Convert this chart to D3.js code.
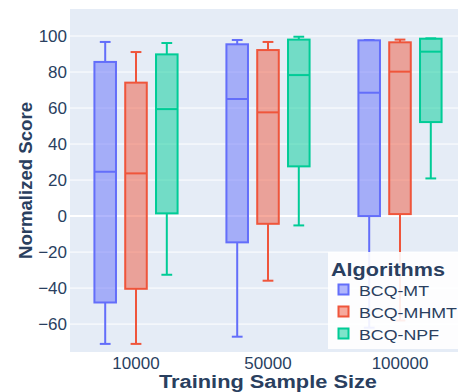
<!DOCTYPE html>
<html>
<head>
<meta charset="utf-8">
<script src="https://cdn.jsdelivr.net/npm/d3@7"></script>
<style>
  html, body { margin: 0; padding: 0; background: #fff; }
  svg { display: block; }
  text { font-family: "Liberation Sans", Arial, sans-serif; fill: #2a3f5f; }
</style>
</head>
<body>
<svg id="chart" width="458" height="392"></svg>
<script>
// Training sample sizes on the x axis
const sampleSizes = ["10000", "50000", "100000"];
const algorithms = ["BCQ-MT", "BCQ-MHMT", "BCQ-NPF"];
const colors = ["#636efa", "#ef553b", "#00cc96"];

// Box statistics per algorithm, one entry per sample size: [lower, q1, median, q3, upper]
const statsMT   = [[-71, -48, 24.6, 85.6, 96.7], [-67, -14.6, 65, 95.4, 97.8], [-62, 0, 68.5, 97.6, 97.8]];
const statsMHMT = [[-71, -40.4, 23.7, 74.1, 91.1], [-35.9, -4.3, 57.6, 92.2, 96.7], [-58, 1.1, 80.2, 96.5, 98]];
const statsNPF  = [[-32.6, 1.5, 59.4, 89.8, 96.1], [-5.2, 27.6, 78.3, 98, 99.6], [20.9, 52.2, 91.3, 98.5, 98.7]];
const yTicks = [-60, -40, -20, 0, 20, 40, 60, 80, 100];

const allStats = [statsMT, statsMHMT, statsNPF];

const svg = d3.select("#chart");
const plot = { left: 70, top: 9, right: 466, bottom: 352 };

const x = d3.scaleBand().domain(sampleSizes).range([plot.left, plot.right]);
const groupWidth = x.bandwidth() * 0.7;
const xInner = d3.scaleBand().domain(algorithms).range([0, groupWidth]);
const boxW = xInner.bandwidth() * 0.7;
const y = d3.scaleLinear().domain([-75.5, 115]).range([plot.bottom, plot.top]);

// plot background
svg.append("rect")
  .attr("x", plot.left).attr("y", plot.top)
  .attr("width", plot.right - plot.left).attr("height", plot.bottom - plot.top)
  .attr("fill", "#e5ecf6");

// horizontal grid
svg.append("g").selectAll("line").data(yTicks).join("line")
  .attr("x1", plot.left).attr("x2", plot.right)
  .attr("y1", d => y(d)).attr("y2", d => y(d))
  .attr("stroke", "#fff").attr("stroke-width", d => d === 0 ? 2 : 1);

// y axis labels
const yAxis = svg.append("g")
  .attr("transform", `translate(${plot.left},0)`)
  .call(d3.axisLeft(y).tickValues(yTicks).tickSize(0).tickPadding(3)
    .tickFormat(d => d < 0 ? "\u2212" + Math.abs(d) : d));
yAxis.select(".domain").remove();
yAxis.selectAll("text").style("font-size", "17px").attr("fill", "#2a3f5f")
  .style("font-family", "'Liberation Sans', Arial, sans-serif");

// x axis labels
const xAxis = svg.append("g")
  .attr("transform", `translate(0,${plot.bottom})`)
  .call(d3.axisBottom(x).tickSize(0).tickPadding(5));
xAxis.select(".domain").remove();
xAxis.selectAll("text").style("font-size", "17px").attr("fill", "#2a3f5f")
  .style("font-family", "'Liberation Sans', Arial, sans-serif");

// boxes
const groups = svg.append("g");
algorithms.forEach((alg, ai) => {
  const g = groups.append("g");
  const col = colors[ai];
  allStats[ai].forEach((s, ci) => {
    const cx = x(sampleSizes[ci]) + (x.bandwidth() - groupWidth) / 2 + xInner(alg) + xInner.bandwidth() / 2;
    const [lo, q1, med, q3, hi] = s;
    const b = g.append("g");
    // whiskers
    b.append("line").attr("x1", cx).attr("x2", cx).attr("y1", y(q3)).attr("y2", y(hi))
      .attr("stroke", col).attr("stroke-width", 2);
    b.append("line").attr("x1", cx).attr("x2", cx).attr("y1", y(q1)).attr("y2", y(lo))
      .attr("stroke", col).attr("stroke-width", 2);
    [lo, hi].forEach(v => b.append("line")
      .attr("x1", cx - boxW / 4).attr("x2", cx + boxW / 4)
      .attr("y1", y(v)).attr("y2", y(v))
      .attr("stroke", col).attr("stroke-width", 2));
    // box
    b.append("rect")
      .attr("x", cx - boxW / 2).attr("y", y(q3))
      .attr("width", boxW).attr("height", y(q1) - y(q3))
      .attr("fill", col).attr("fill-opacity", 0.5)
      .attr("stroke", col).attr("stroke-width", 2);
    // median
    b.append("line").attr("x1", cx - boxW / 2).attr("x2", cx + boxW / 2)
      .attr("y1", y(med)).attr("y2", y(med))
      .attr("stroke", col).attr("stroke-width", 2);
  });
});

// axis titles
svg.append("text")
  .attr("x", (plot.left + plot.right) / 2).attr("y", 388)
  .attr("text-anchor", "middle")
  .attr("textLength", 218).attr("lengthAdjust", "spacingAndGlyphs")
  .style("font-size", "18px").style("font-weight", "bold")
  .text("Training Sample Size");

svg.append("text")
  .attr("transform", `translate(32,${(plot.top + plot.bottom) / 2}) rotate(-90)`)
  .attr("text-anchor", "middle")
  .attr("textLength", 157).attr("lengthAdjust", "spacingAndGlyphs")
  .style("font-size", "19px").style("font-weight", "bold")
  .text("Normalized Score");

// legend
const legend = svg.append("g");
legend.append("rect")
  .attr("x", 328).attr("y", 252).attr("width", 140).attr("height", 97)
  .attr("fill", "#fff").attr("fill-opacity", 0.9);
legend.append("text")
  .attr("x", 331).attr("y", 276)
  .attr("textLength", 114).attr("lengthAdjust", "spacingAndGlyphs")
  .style("font-size", "17.5px").style("font-weight", "bold")
  .text("Algorithms");
const itemLens = [70, 98, 80];
algorithms.forEach((alg, i) => {
  const base = 296 + i * 22;
  legend.append("rect")
    .attr("x", 338.5).attr("y", base - 11.5).attr("width", 10).attr("height", 10)
    .attr("fill", colors[i]).attr("fill-opacity", 0.5)
    .attr("stroke", colors[i]).attr("stroke-width", 2);
  legend.append("text")
    .attr("x", 359).attr("y", base)
    .attr("textLength", itemLens[i]).attr("lengthAdjust", "spacingAndGlyphs")
    .style("font-size", "15.5px")
    .text(alg);
});
</script>
</body>
</html>
